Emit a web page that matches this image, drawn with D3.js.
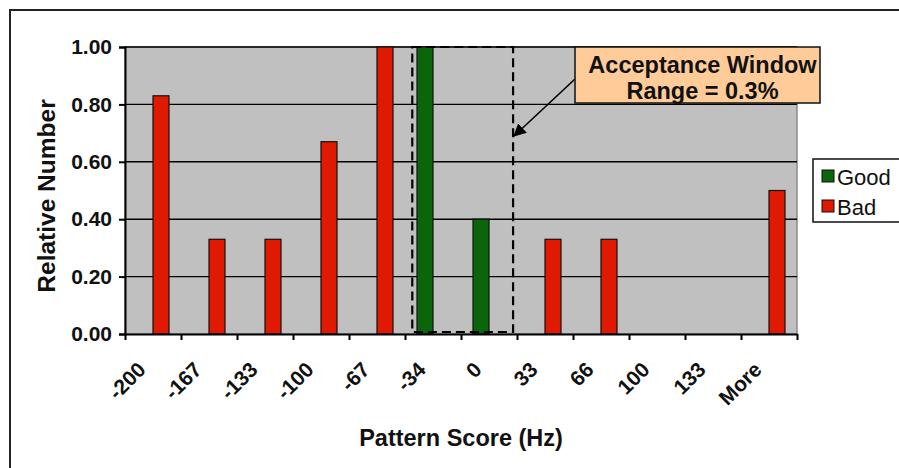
<!DOCTYPE html>
<html><head><meta charset="utf-8">
<script src="https://cdn.jsdelivr.net/npm/d3@7"></script>
<style>
body{margin:0;background:#fff}
text{font-family:"Liberation Sans",Arial,Helvetica,sans-serif}
</style>
</head><body>
<svg id="c" width="899" height="468"></svg>
<script>
// ---- data ----
const categories = ["-200","-167","-133","-100","-67","-34","0","33","66","100","133","More"];
const seriesNames = ["Good","Bad"];
const goodValues = [0,0,0,0,0,1.00,0.40,0,0,0,0,0];
const badValues  = [0.83,0.33,0.33,0.67,1.00,0,0,0.33,0.33,0,0,0.50];
const yTickValues = [0,0.2,0.4,0.6,0.8,1.0];
const windowRange = [5.13, 6.93];     // acceptance window, in category-index units
const arrowTipValue = 0.69;           // y value where the arrow meets the window edge
const calloutLines = ["Acceptance Window","Range = 0.3%"];
const xTitle = "Pattern Score (Hz)";
const yTitle = "Relative Number";

const colors = {Good:"#0b660b", Bad:"#e01a00"};
const seriesValues = {Good:goodValues, Bad:badValues};

// ---- layout ----
const svg = d3.select("#c");
const L=125, R=797, T=47, B=334;

svg.append("rect").attr("x",10).attr("y",10).attr("width",900).attr("height",470)
  .attr("fill","#fff").attr("stroke","#222").attr("stroke-width",2);

const x = d3.scaleBand().domain(categories).range([L,R]).padding(0);
const xs = d3.scaleBand().domain(seriesNames).range([0,x.bandwidth()]).paddingInner(0).paddingOuter(0.75);
const xi = d3.scaleLinear().domain([0,categories.length]).range([L,R]);
const y = d3.scaleLinear().domain([0,1]).range([B,T]);

// plot area
svg.append("rect").attr("x",L).attr("y",T).attr("width",R-L).attr("height",B-T)
  .attr("fill","#c0c0c0").attr("stroke","#8a8a8a").attr("stroke-width",1.5);

// gridlines
svg.append("g").selectAll("line").data(yTickValues.filter(d=>d>0)).join("line")
  .attr("x1",L).attr("x2",R).attr("y1",d=>y(d)).attr("y2",d=>y(d))
  .attr("stroke","#000").attr("stroke-width",1.4);

// bars
const rows = categories.map((c,i)=>({c, vals: seriesNames.map(s=>({s, v:seriesValues[s][i]}))}));
const gb = svg.append("g").selectAll("g").data(rows).join("g")
  .attr("transform",d=>`translate(${x(d.c)},0)`);
gb.selectAll("rect").data(d=>d.vals.filter(e=>e.v>0)).join("rect")
  .attr("x",d=>xs(d.s)).attr("width",xs.bandwidth())
  .attr("y",d=>y(d.v)).attr("height",d=>y(0)-y(d.v))
  .attr("fill",d=>colors[d.s]).attr("stroke","#111").attr("stroke-width",1.2);

// acceptance window (dashed)
svg.append("rect").attr("x",xi(windowRange[0])).attr("y",y(1))
  .attr("width",xi(windowRange[1])-xi(windowRange[0])).attr("height",y(0)-y(1)-2)
  .attr("fill","none").attr("stroke","#000").attr("stroke-width",2.2)
  .attr("stroke-dasharray","9,5");

// axes
const yAxis = svg.append("g").attr("transform",`translate(${L},0)`)
  .call(d3.axisLeft(y).tickValues(yTickValues).tickFormat(d3.format(".2f")).tickSize(6).tickPadding(7));
yAxis.select(".domain").attr("stroke","#000").attr("stroke-width",2);
yAxis.selectAll(".tick line").attr("stroke","#000").attr("stroke-width",2);
yAxis.selectAll("text").attr("font-size",21).attr("font-weight","bold").attr("fill","#111")
  .style("font-family",'"Liberation Sans",Arial,sans-serif');

const xTickAxis = svg.append("g").attr("transform",`translate(0,${B})`)
  .call(d3.axisBottom(xi).tickValues(d3.range(categories.length+1)).tickFormat("").tickSize(6).tickSizeOuter(0));
xTickAxis.select(".domain").attr("stroke","#000").attr("stroke-width",2);
xTickAxis.selectAll(".tick line").attr("stroke","#000").attr("stroke-width",2);

const xLab = svg.append("g").attr("transform",`translate(0,${B})`)
  .call(d3.axisBottom(x).tickSize(0));
xLab.select(".domain").remove();
xLab.selectAll("text").attr("x",0).attr("y",0).attr("dy",0)
  .attr("transform","translate(-6,37) rotate(-45)")
  .attr("text-anchor","end").attr("font-size",21).attr("font-weight","bold").attr("fill","#111")
  .style("font-family",'"Liberation Sans",Arial,sans-serif');

// axis titles
svg.append("text").attr("x",(L+R)/2).attr("y",446).attr("text-anchor","middle")
  .attr("font-size",23.5).attr("font-weight","bold").attr("fill","#111").text(xTitle);
svg.append("text").attr("transform",`translate(55,196) rotate(-90)`).attr("text-anchor","middle")
  .attr("font-size",24.5).attr("font-weight","bold").attr("fill","#111").text(yTitle);

// legend
const lg = svg.append("g");
lg.append("rect").attr("x",813).attr("y",159).attr("width",100).attr("height",63)
  .attr("fill","#fff").attr("stroke","#111").attr("stroke-width",1.5);
seriesNames.forEach((s,i)=>{
  lg.append("rect").attr("x",822).attr("y",170+i*30).attr("width",12).attr("height",12)
    .attr("fill",colors[s]).attr("stroke","#111").attr("stroke-width",1);
  lg.append("text").attr("x",837).attr("y",185+i*30).attr("font-size",22).attr("fill","#111").text(s);
});

// callout
const cx0=575, cx1=820, cy0=47, cy1=103;
svg.append("defs").append("marker").attr("id","ah").attr("viewBox","0 0 10 10")
  .attr("refX",9).attr("refY",5).attr("markerWidth",8).attr("markerHeight",8)
  .attr("markerUnits","strokeWidth").attr("orient","auto")
  .append("path").attr("d","M0,0L10,5L0,10z").attr("fill","#000");
svg.append("line").attr("x1",cx0).attr("y1",79).attr("x2",xi(windowRange[1])+1).attr("y2",y(arrowTipValue))
  .attr("stroke","#000").attr("stroke-width",1.6).attr("marker-end","url(#ah)");
svg.append("rect").attr("x",cx0).attr("y",cy0).attr("width",cx1-cx0).attr("height",cy1-cy0)
  .attr("fill","#ffcc99").attr("stroke","#111").attr("stroke-width",1.5);
calloutLines.forEach((t,i)=>{
  svg.append("text").attr("x",(cx0+cx1)/2+5).attr("y",73+i*26).attr("text-anchor","middle")
    .attr("font-size",23.5).attr("font-weight","bold").attr("fill","#111").text(t);
});
</script>
</body></html>
